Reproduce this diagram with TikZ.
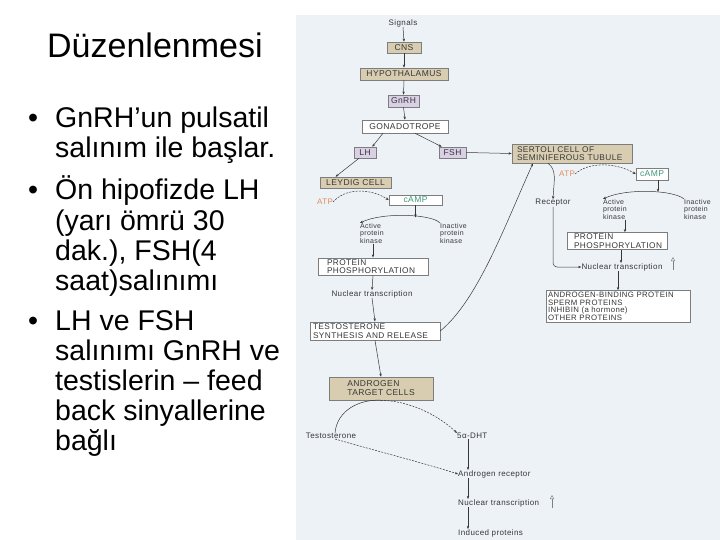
\documentclass[tikz,border=0pt]{standalone}
\usepackage{fontspec}
\setmainfont{Liberation Sans}
\newfontfamily\dgfont[LetterSpace=5]{Liberation Sans}
\usetikzlibrary{arrows.meta}
\definecolor{tanfill}{RGB}{216,205,176}
\definecolor{lavfill}{RGB}{218,208,230}
\definecolor{panelbg}{RGB}{237,242,246}
\definecolor{dgtext}{RGB}{55,55,55}
\definecolor{boxline}{RGB}{125,125,125}
\definecolor{atpcol}{RGB}{222,140,90}
\definecolor{campcol}{RGB}{60,150,120}
\tikzset{
 titletxt/.style={inner sep=0pt, anchor=base west, font=\fontsize{34}{36}\selectfont},
 btxt/.style={inner sep=0pt, anchor=base west, font=\fontsize{28.5}{30}\selectfont},
 bul/.style={inner sep=0pt, anchor=base, font=\fontsize{28.5}{30}\selectfont},
 tbox/.style={draw=boxline, line width=0.5pt, inner sep=0pt, text=dgtext, font=\dgfont\fontsize{8.5}{9}\selectfont},
 lbox/.style={tbox, align=left, inner ysep=-2.5pt, font=\dgfont\fontsize{8.3}{8.6}\selectfont},
 lbl/.style={inner sep=0pt, text=dgtext, font=\dgfont\fontsize{8}{9}\selectfont},
 kin/.style={inner sep=0pt, text=dgtext, align=left, anchor=north west, font=\dgfont\fontsize{7}{7.5}\selectfont},
 arr/.style={draw=dgtext, line width=0.5pt, -{Stealth[length=3.2pt,width=2.4pt]}},
 darr/.style={arr, dash pattern=on 2pt off 1.2pt},
 plainln/.style={draw=dgtext, line width=0.5pt},
 uparr/.style={draw=gray, line width=0.4pt, -{Triangle[open,length=4pt,width=4pt]}},
}
\begin{document}
\begin{tikzpicture}[x=1pt,y=-1pt]
\useasboundingbox (0,0) rectangle (720,540);
\fill[panelbg] (296,15) rectangle (720,540);

% ---------- left text ----------
\node[titletxt] (title) at (47,58) {Düzenlenmesi};
\node[bul] (d1) at (33,128) {•};
\node[btxt] (l1) at (55,128) {GnRH’un pulsatil};
\node[btxt] (l2) at (55,158) {salınım ile başlar.};
\node[bul] (d2) at (33,200) {•};
\node[btxt] (l3) at (55,200) {Ön hipofizde LH};
\node[btxt] (l4) at (55,230) {(yarı ömrü 30};
\node[btxt] (l5) at (55,260) {dak.), FSH(4};
\node[btxt] (l6) at (55,290) {saat)salınımı};
\node[bul] (d3) at (33,330) {•};
\node[btxt] (l7) at (55,330) {LH ve FSH};
\node[btxt] (l8) at (55,360) {salınımı GnRH ve};
\node[btxt] (l9) at (55,390) {testislerin – feed};
\node[btxt] (l10) at (55,420) {back sinyallerine};
\node[btxt] (l11) at (55,450) {bağlı};

% ---------- diagram nodes ----------
\node[lbl] (sig) at (403,23) {Signals};
\node[tbox, fill=tanfill, minimum width=34pt, minimum height=11pt] (cns) at (404,47.5) {CNS};
\node[tbox, fill=tanfill, minimum width=88pt, minimum height=12pt] (hyp) at (404,74) {HYPOTHALAMUS};
\node[tbox, fill=lavfill, minimum width=31pt, minimum height=12pt] (gnrh) at (403.5,101) {GnRH};
\node[tbox, fill=white, minimum width=86pt, minimum height=13pt] (gon) at (405,126.5) {GONADOTROPE};
\node[tbox, fill=lavfill, minimum width=22pt, minimum height=11pt] (lh) at (365,152.5) {LH};
\node[tbox, fill=lavfill, minimum width=27pt, minimum height=11pt] (fsh) at (452.5,152.5) {FSH};
\node[lbox, fill=tanfill, inner xsep=5pt, text width=110pt, minimum height=19pt] (ser) at (572,153.5) {SERTOLI CELL OF\\SEMINIFEROUS TUBULE};
\node[tbox, fill=tanfill, minimum width=71pt, minimum height=11pt] (ley) at (355.5,182.5) {LEYDIG CELL};
\node[lbl, text=atpcol] (atpl) at (325,202) {ATP};
\node[tbox, fill=white, text=campcol, minimum width=53pt, minimum height=10pt] (campl) at (415.5,200) {cAMP};
\node[kin] (actl) at (360,223) {Active\\protein\\kinase};
\node[kin] (inal) at (440,223) {Inactive\\protein\\kinase};
\node[lbox, fill=white, inner xsep=9pt, text width=92pt, minimum height=17.5pt] (ppl) at (373,266.5) {PROTEIN\\PHOSPHORYLATION};
\node[lbl] (nucl) at (372,294) {Nuclear transcription};
\node[lbox, fill=white, inner xsep=3pt, text width=124pt, minimum height=18.5pt] (test) at (375,331) {TESTOSTERONE\\SYNTHESIS AND RELEASE};
\node[tbox, fill=tanfill, align=left, minimum width=104pt, minimum height=23pt] (andr) at (381,388.5) {ANDROGEN\\TARGET CELLS};

\node[lbl] (rec) at (553,203) {Receptor};
\node[lbl, text=atpcol] (atpr) at (567,174) {ATP};
\node[tbox, fill=white, text=campcol, minimum width=32pt, minimum height=12pt] (campr) at (652,174) {cAMP};
\node[kin] (actr) at (603,199) {Active\\protein\\kinase};
\node[kin] (inar) at (684,199) {Inactive\\protein\\kinase};
\node[lbox, fill=white, inner xsep=7pt, text width=86pt, minimum height=17pt] (ppr) at (617,241) {PROTEIN\\PHOSPHORYLATION};
\node[lbl] (nucr) at (622,267) {Nuclear transcription};
\node[lbox, fill=white, inner xsep=2pt, text width=140pt, minimum height=32pt,
      font=\dgfont\fontsize{7.8}{7.5}\selectfont] (abp) at (618,306.5)
      {ANDROGEN-BINDING PROTEIN\\SPERM PROTEINS\\INHIBIN (a hormone)\\OTHER PROTEINS};

\node[lbl] (testo) at (331,436) {Testosterone};
\node[lbl, anchor=west] (dht) at (457,436) {5α-DHT};
\node[lbl, anchor=west] (arec) at (458,474) {Androgen receptor};
\node[lbl, anchor=west] (nucb) at (458,503) {Nuclear transcription};
\node[lbl, anchor=west] (ind) at (458,533) {Induced proteins};

\coordinate (pkl) at (415.5,217.5);
\coordinate (pkr) at (658,192);
\coordinate (colb) at (468,0);
\coordinate (upa1) at (673,270);
\coordinate (upa2) at (673,257);
\coordinate (upb1) at (552,508);
\coordinate (upb2) at (552,495);

% ---------- connectors ----------
\draw[arr] (sig.south) -- (cns.north);
\draw[arr] (cns.south) -- (hyp.north);
\draw[arr] (hyp.south) -- (gnrh.north);
\draw[arr] (gnrh.south) -- (gon.north);
\draw[arr] ([xshift=-22pt]gon.south) -- ([xshift=-4pt]lh.north east);
\draw[arr] ([xshift=10pt]gon.south) -- ([xshift=3pt]fsh.north west);
\draw[arr] (fsh.east) -- (ser.west);
\draw[arr] ([xshift=-6pt]lh.south) -- ([xshift=-20pt]ley.north);
\draw[darr] (atpl.east) .. controls (345,188) and (370,188) .. (campl.west);
\draw[arr] (campl.south) -- (pkl);
\draw[arr] (inal.north west) .. controls (432,214) and (382,212) .. (actl.north west);
\draw[arr] (actl.south -| ppl.north) -- (ppl.north);
\draw[arr] (ppl.south) -- (nucl.north);
\draw[arr] (nucl.south) -- (test.north);
\draw[arr] (test.south) -- (andr.north);
\draw[arr] (test.east) .. controls (478,300) and (505,225) .. ([xshift=-39pt]ser.south);
\draw[arr] ([xshift=-24pt]ser.south) .. controls (557,170) and (554,180) .. (rec.north);
\draw[arr, rounded corners=4pt] (rec.south) |- (nucr.west);
\draw[darr] (atpr.east) .. controls (588,162) and (615,162) .. (campr.west);
\draw[arr] ([xshift=6pt]campr.south) -- (pkr);
\draw[arr] (inar.north west) .. controls (674,190) and (626,188) .. (actr.north west);
\draw[arr] ([xshift=10pt]actr.south) -- ([xshift=10pt]actr.south |- ppr.north);
\draw[arr] ([xshift=4pt]ppr.south) -- ([xshift=4pt]ppr.south |- nucr.north);
\draw[arr] (nucr.south -| abp.north) -- (abp.north);
\draw[uparr] (upa1) -- (upa2);

\draw[plainln] ([xshift=4pt]testo.north) .. controls (337,410) and (360,399) .. (andr.south);
\draw[darr] (andr.south) .. controls (410,401) and (438,415) .. (dht.north west);
\draw[darr] ([xshift=4pt]testo.south) .. controls (380,452) and (420,462) .. (arec.west);
\draw[arr] (colb |- dht.south) -- (colb |- arec.north);
\draw[arr] (colb |- arec.south) -- (colb |- nucb.north);
\draw[arr] (colb |- nucb.south) -- (colb |- ind.north);
\draw[uparr] (upb1) -- (upb2);
\end{tikzpicture}
\end{document}
